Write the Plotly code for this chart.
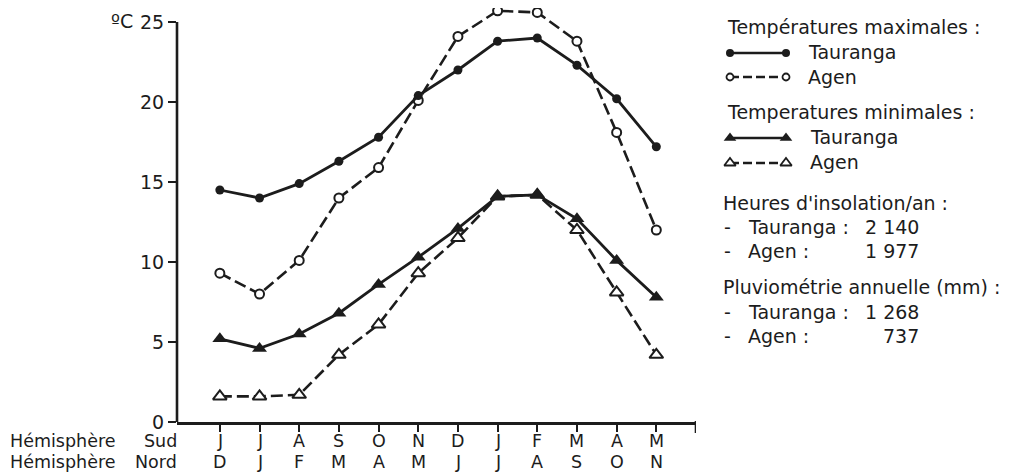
import plotly.graph_objects as go

# ---------------- data ----------------
months_sud = ["J", "J", "A", "S", "O", "N", "D", "J", "F", "M", "A", "M"]
months_nord = ["D", "J", "F", "M", "A", "M", "J", "J", "A", "S", "O", "N"]

tmax_tauranga = [14.5, 14.0, 14.9, 16.3, 17.8, 20.4, 22.0, 23.8, 24.0, 22.3, 20.2, 17.2]
tmax_agen = [9.3, 8.0, 10.1, 14.0, 15.9, 20.1, 24.1, 25.7, 25.6, 23.8, 18.1, 12.0]
tmin_tauranga = [5.2, 4.6, 5.5, 6.8, 8.6, 10.3, 12.1, 14.1, 14.2, 12.7, 10.1, 7.8]
tmin_agen = [1.6, 1.6, 1.7, 4.2, 6.1, 9.3, 11.5, 14.1, 14.2, 12.0, 8.1, 4.2]

y_ticks = [0, 5, 10, 15, 20, 25]

stations = ["Tauranga", "Agen"]
insolation_hours = ["2 140", "1 977"]
rainfall_mm = ["1 268", "737"]

# ---------------- styling ----------------
W, H = 1015, 475
OFF = 8          # page body margin of the html page
INK = "#1c1c1c"
FONT = "DejaVu Sans"
FS = 19
FS_SMALL = 17.5
DASH = "12px,5px"


def px(x):
    """page pixel x -> paper fraction"""
    return (x - OFF) / W


def py(y):
    """page pixel y -> paper fraction"""
    return 1 - (y - OFF) / H


Y0_PAGE = 422      # page pixel of value 0
PX_PER_UNIT = 16.0

styles = {
    "tmax_tauranga": dict(line=dict(color=INK, width=2.8),
                          marker=dict(symbol="circle", size=9, color=INK)),
    "tmax_agen": dict(line=dict(color=INK, width=2.6, dash=DASH),
                      marker=dict(symbol="circle", size=9, color="white",
                                  line=dict(color=INK, width=2))),
    "tmin_tauranga": dict(line=dict(color=INK, width=2.8),
                          marker=dict(symbol="triangle-up", size=13, color=INK)),
    "tmin_agen": dict(line=dict(color=INK, width=2.6, dash=DASH),
                      marker=dict(symbol="triangle-up", size=12, color="white",
                                  line=dict(color=INK, width=2))),
}
legend_styles = {
    "tmax_tauranga": dict(line=dict(color=INK, width=2.4),
                          marker=dict(symbol="circle", size=8, color=INK)),
    "tmax_agen": dict(line=dict(color=INK, width=2.4, dash="9px,4px"),
                      marker=dict(symbol="circle", size=7, color="white",
                                  line=dict(color=INK, width=1.8))),
    "tmin_tauranga": dict(line=dict(color=INK, width=2.4),
                          marker=dict(symbol="triangle-up", size=11, color=INK)),
    "tmin_agen": dict(line=dict(color=INK, width=2.4, dash="9px,4px"),
                      marker=dict(symbol="triangle-up", size=10, color="white",
                                  line=dict(color=INK, width=1.8))),
}

x_idx = list(range(len(months_sud)))

fig = go.Figure()
series = [("tmax_agen", tmax_agen), ("tmax_tauranga", tmax_tauranga),
          ("tmin_agen", tmin_agen), ("tmin_tauranga", tmin_tauranga)]
for key, vals in series:
    fig.add_trace(go.Scatter(x=x_idx, y=vals, mode="lines+markers",
                             cliponaxis=False, showlegend=False,
                             hoverinfo="skip", **styles[key]))

# legend samples on an auxiliary page-pixel axis
legend_rows = [("tmax_tauranga", 53), ("tmax_agen", 77),
               ("tmin_tauranga", 138), ("tmin_agen", 163)]
for key, yy in legend_rows:
    fig.add_trace(go.Scatter(x=[730, 786], y=[yy, yy], mode="lines+markers",
                             xaxis="x2", yaxis="y2", cliponaxis=False,
                             showlegend=False, hoverinfo="skip",
                             **legend_styles[key]))

annotations = []


def txt(text, x, y, anchor="left", xref="paper", size=FS):
    annotations.append(dict(text=text, x=x, y=y, xref=xref, yref="paper",
                            xanchor=anchor, yanchor="middle", showarrow=False,
                            borderpad=0,
                            font=dict(family=FONT, size=size, color=INK)))


# unit label
txt("ºC", px(110), py(21))

# hemisphere rows (two-row month axis)
ROW1, ROW2 = 441, 462
txt("Hémisphère", px(9), py(ROW1), size=FS_SMALL)
txt("Sud", px(178), py(ROW1), anchor="right", size=FS_SMALL)
txt("Hémisphère", px(9), py(ROW2), size=FS_SMALL)
txt("Nord", px(178), py(ROW2), anchor="right", size=FS_SMALL)
for i, m in enumerate(months_sud):
    txt(m, i, py(ROW1), anchor="center", xref="x", size=FS_SMALL)
for i, m in enumerate(months_nord):
    txt(m, i, py(ROW2), anchor="center", xref="x", size=FS_SMALL)

# legend texts
txt("Températures maximales :", px(726), py(27))
txt(stations[0], px(807), py(52))
txt(stations[1], px(807), py(77))
txt("Temperatures minimales :", px(726), py(112))
txt(stations[0], px(809), py(137))
txt(stations[1], px(809), py(162))

txt("Heures d'insolation/an :", px(722), py(203))
for j, (name, val) in enumerate(zip(stations, insolation_hours)):
    yy = 227 + 24 * j
    txt("-", px(723), py(yy))
    txt(name + " :", px(747), py(yy))
    txt(val, px(920), py(yy), anchor="right")

txt("Pluviométrie annuelle (mm) :", px(722), py(287))
for j, (name, val) in enumerate(zip(stations, rainfall_mm)):
    yy = 312 + 24 * j
    txt("-", px(723), py(yy))
    txt(name + " :", px(747), py(yy))
    txt(val, px(920), py(yy), anchor="right")

shapes = [
    # vertical axis from 0 to 25
    dict(type="line", xref="paper", yref="y", x0=px(177), x1=px(177),
         y0=0, y1=25, line=dict(color=INK, width=2.6)),
    # end tick of horizontal axis
    dict(type="line", xref="x", yref="paper", x0=12, x1=12,
         y0=py(421), y1=py(433), line=dict(color=INK, width=2.6)),
]

plot_top_page = OFF
y_top_val = (Y0_PAGE - plot_top_page) / PX_PER_UNIT

fig.update_layout(
    width=W, height=H,
    margin=dict(l=0, r=0, t=0, b=0, autoexpand=False),
    paper_bgcolor="white", plot_bgcolor="rgba(0,0,0,0)",
    font=dict(family=FONT, size=FS, color=INK),
    showlegend=False,
    annotations=annotations,
    shapes=shapes,
    xaxis=dict(domain=[px(177), px(696)], range=[-1.08, 12.0],
               tickmode="array", tickvals=x_idx, showticklabels=False,
               ticks="outside", ticklen=7, tickwidth=2, tickcolor=INK,
               showline=True, linewidth=2.6, linecolor=INK,
               showgrid=False, zeroline=False,
               anchor="y", fixedrange=True),
    yaxis=dict(domain=[py(Y0_PAGE), 1], range=[0, y_top_val],
               tickmode="array", tickvals=y_ticks,
               ticks="outside", ticklen=8, tickwidth=2, tickcolor=INK,
               showline=False, showgrid=False, zeroline=False,
               tickfont=dict(family=FONT, size=FS, color=INK),
               anchor="x", fixedrange=True),
    xaxis2=dict(domain=[px(700), 1], range=[700, W + OFF], visible=False,
                anchor="y2", fixedrange=True),
    yaxis2=dict(domain=[0, 1], range=[H + OFF, OFF], visible=False,
                anchor="x2", fixedrange=True),
)

fig.write_html("out.html")
